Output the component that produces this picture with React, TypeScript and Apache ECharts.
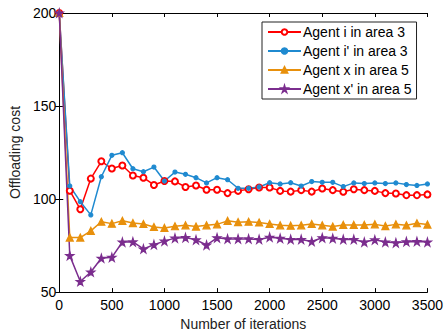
import React, { useEffect, useRef } from "react";
import * as echarts from "echarts";

const iterations = Array.from({ length: 36 }, (_, i) => i * 100);
const seriesNames = ["Agent i in area 3", "Agent i' in area 3", "Agent x in area 5", "Agent x' in area 5"];
const agentI = [200, 104.5, 94.5, 111, 120.3, 116.4, 118, 112.7, 111.5, 107.6, 109.7, 109.5, 106.5, 107.3, 105, 105, 103.2, 104.4, 105.3, 106.2, 106.2, 104.4, 104, 104.8, 104, 105.7, 104.8, 103.9, 105.3, 104.8, 104.4, 103.2, 103, 102.1, 102.1, 102.5];
const agentIp = [200, 107, 98.6, 91.5, 112, 123.5, 124.9, 116.3, 114.7, 117.2, 109.7, 114.5, 113.3, 111.5, 108.7, 111.5, 110.4, 105.8, 105.8, 106.5, 108.8, 108.1, 108.8, 107, 109.4, 109, 109, 106.7, 108.7, 108.3, 108.7, 108.3, 108.7, 107.8, 107.3, 108.1];
const agentX = [200, 79.3, 79.3, 82.9, 87.8, 86.8, 88.3, 87.1, 86.6, 85, 84.5, 85.4, 85.9, 85.2, 85.9, 86.4, 88.3, 87.6, 87.8, 87.4, 86.6, 85.9, 85.7, 85.9, 86.6, 85.9, 85.2, 86.1, 86.1, 86.1, 86.4, 85.5, 86.4, 85.9, 87, 86.3];
const agentXp = [200, 69.6, 55.7, 60.8, 68.2, 68.7, 76.9, 77, 73.2, 75.5, 77.4, 79, 79.3, 78.1, 75.3, 79.2, 78.6, 78.6, 78.6, 78.3, 79.5, 78.9, 78.3, 78.3, 77.2, 79.2, 78.9, 78.3, 78.3, 76.9, 78.1, 76.9, 76.5, 77.1, 77.2, 76.9];

const STAR = "path://M50,0 L61,35 L98,35 L68,57 L79,91 L50,70 L21,91 L32,57 L2,35 L39,35 Z";
const FONT = "'Liberation Sans', Arial, sans-serif";

export default function App() {
  const ref = useRef<HTMLDivElement>(null);
  useEffect(() => {
    if (!ref.current) return;
    const chart = echarts.init(ref.current, undefined, { renderer: "svg" });
    const pair = (arr: number[]) => iterations.map((x, i) => [x, arr[i]]);
    const axisCommon = {
      axisLine: { show: true, lineStyle: { color: "#000", width: 1 } },
      axisTick: { show: true, inside: true, length: 4, lineStyle: { color: "#000" } },
      splitLine: { show: false },
    };
    const mk = (name: string, data: number[], color: string, symbol: string, size: number, extra: any = {}) => ({
      name,
      type: "line",
      data: pair(data),
      symbol,
      symbolSize: size,
      showAllSymbol: true,
      lineStyle: { color, width: 1.5 },
      itemStyle: { color, borderColor: color, borderWidth: 1.2 },
      ...extra,
    });
    chart.setOption({
      animation: false,
      textStyle: { fontFamily: FONT },
      grid: { left: 55, right: 14, top: 13, bottom: 39 },
      xAxis: [
        {
          type: "value", min: 0, max: 3500, interval: 500,
          ...axisCommon,
          axisLabel: { color: "#000", fontSize: 14, fontFamily: FONT, margin: 6, formatter: (v: number) => String(v) },
          name: "Number of iterations", nameLocation: "middle", nameGap: 24,
          nameTextStyle: { color: "#222", fontSize: 14, fontFamily: FONT },
        },
        {
          type: "value", min: 0, max: 3500, interval: 500, position: "top",
          ...axisCommon, axisLabel: { show: false },
        },
      ],
      yAxis: [
        {
          type: "value", min: 50, max: 200, interval: 50,
          ...axisCommon,
          axisLabel: { color: "#000", fontSize: 14, fontFamily: FONT, margin: 3, formatter: (v: number) => String(v) },
          name: "Offloading cost", nameLocation: "middle", nameGap: 34,
          nameTextStyle: { color: "#222", fontSize: 14, fontFamily: FONT },
        },
        {
          type: "value", min: 50, max: 200, interval: 50, position: "right",
          ...axisCommon, axisLabel: { show: false },
        },
      ],
      legend: {
        orient: "vertical",
        left: 262,
        top: 22,
        borderColor: "#222",
        borderWidth: 1,
        backgroundColor: "#fff",
        padding: [3, 5, 3, 5],
        itemWidth: 33,
        itemHeight: 7,
        itemGap: 5,
        textStyle: { fontSize: 14, color: "#000", fontFamily: FONT, padding: [0, 0, 0, -3] },
        data: seriesNames,
      },
      series: [
        mk(seriesNames[0], agentI, "#ff0000", "emptyCircle", 6),
        mk(seriesNames[1], agentIp, "#1f8ad0", "circle", 4),
        mk(seriesNames[2], agentX, "#e8900c", "triangle", 7),
        mk(seriesNames[3], agentXp, "#7b2d8e", STAR, 8),
      ],
    });
    return () => chart.dispose();
  }, []);
  return <div ref={ref} style={{ width: 446, height: 336, position: "absolute", left: 0, top: 0, background: "#fff" }} />;
}
